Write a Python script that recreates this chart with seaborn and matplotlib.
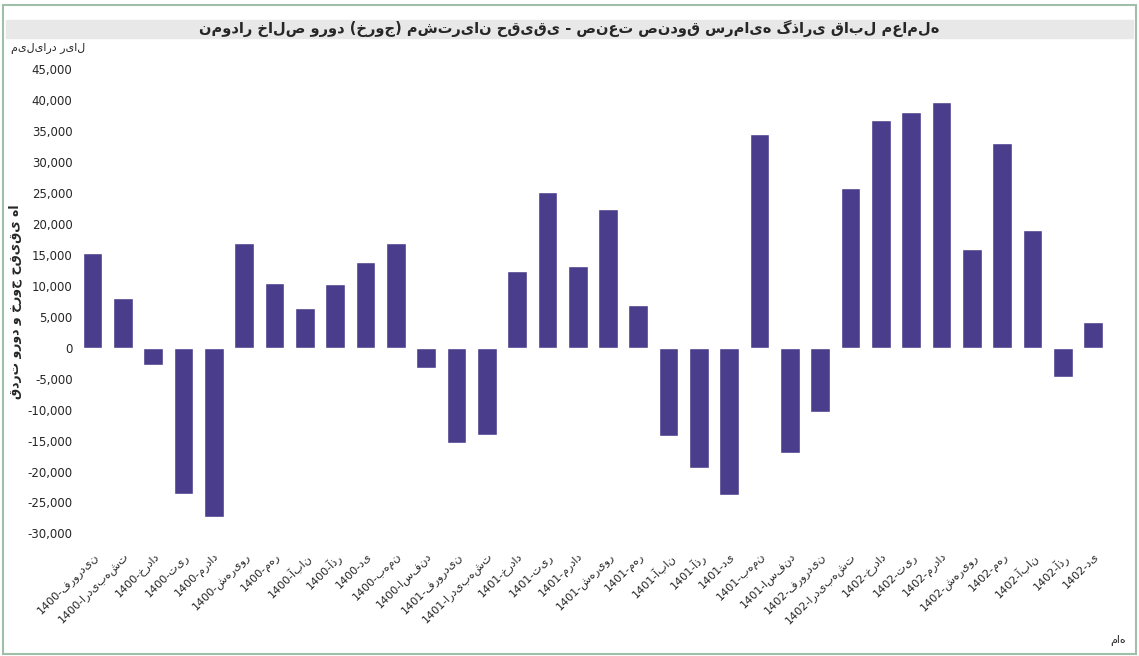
import matplotlib
matplotlib.use("Agg")
import matplotlib.pyplot as plt
import seaborn as sns
import pandas as pd

months = ["فروردین","اردیبهشت","خرداد","تیر","مرداد","شهریور","مهر","آبان","آذر","دی","بهمن","اسفند"]
labels = [f"1400-{m}" for m in months] + [f"1401-{m}" for m in months] + [f"1402-{m}" for m in months[:10]]
values = [15300, 8000, -2800, -23700, -27300, 17000, 10500, 6500, 10300, 13900, 17000, -3200,
          -15400, -14100, 12400, 25200, 13200, 22400, 7000, -14300, -19500, -23800, 34500, -17000,
          -10300, 25800, 36800, 38100, 39800, 16000, 33100, 19000, -4700, 4100]
title = "نمودار خالص ورود (خروج) مشتریان حقیقی - صنعت صندوق سرمایه گذاری قابل معامله"
ylabel = "قدرت ورود و خروج حقیقی ها"
unit = "میلیارد ریال"
xlab = "ماه"

sns.set_theme(style="white")
plt.rcParams['font.family'] = ['DejaVu Sans']
df = pd.DataFrame({"label": labels, "value": values})

fig = plt.figure(figsize=(11.39, 6.56), dpi=100)
fig.patches.append(plt.Rectangle((0.003, 0.003), 0.994, 0.99, transform=fig.transFigure,
                                 fill=False, edgecolor="#9fbfa8", lw=1.5))
fig.patches.append(plt.Rectangle((0.005, 0.942), 0.99, 0.028, transform=fig.transFigure,
                                 color="#e8e8e8"))
fig.text(0.5, 0.956, title, ha="center", va="center", fontsize=10.5, fontweight="bold")
ax = fig.add_axes([0.068, 0.168, 0.905, 0.745])
sns.barplot(data=df, x="label", y="value", color="#4a3d8c", saturation=1, width=0.65, ax=ax)
ax.set_ylim(-32000, 47000)
ax.set_yticks(range(-30000, 45001, 5000))
ax.set_yticklabels([f"{v:,}" for v in range(-30000, 45001, 5000)], fontsize=8.5)
ax.set_xticks(range(len(labels)))
ax.set_xticklabels(labels, rotation=45, ha="right", rotation_mode="anchor", fontsize=8)
ax.set_xlabel("")
ax.set_ylabel(ylabel, fontsize=9, fontweight="bold")
for s in ax.spines.values():
    s.set_visible(False)
ax.tick_params(length=0)
fig.text(0.01, 0.922, unit, fontsize=8)
fig.text(0.975, 0.02, xlab, fontsize=8)
fig.savefig("out.png", dpi=100)
